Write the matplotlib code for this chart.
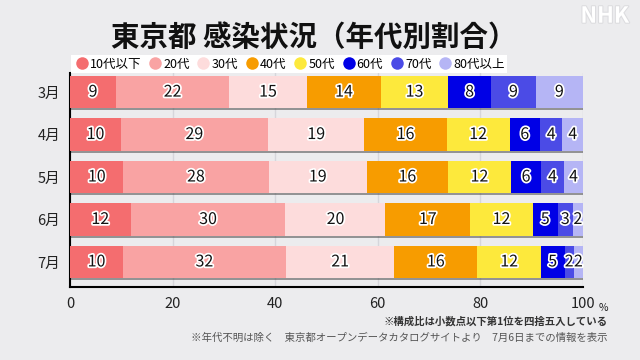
import numpy as np
import matplotlib.pyplot as plt
import matplotlib.patheffects as pe
from matplotlib.lines import Line2D

plt.rcParams['font.family'] = ['Noto Sans CJK JP', 'DejaVu Sans']

# Data (share in %; labels are the rounded values shown)
months = ['3月', '4月', '5月', '6月', '7月']
groups = ['10代以下', '20代', '30代', '40代', '50代', '60代', '70代', '80代以上']
colors = ['#f46d6f', '#f9a3a3', '#fddcdc', '#f79c00', '#fde93c', '#0000e6', '#4b4be6', '#b5b5f5']

share = [
    [9.0, 22.0, 15.2, 14.4, 13.1, 8.4, 8.7, 9.2],
    [9.9, 28.7, 18.8, 16.0, 12.3, 5.9, 4.4, 4.0],
    [10.4, 28.3, 19.2, 15.7, 12.4, 5.8, 4.5, 3.7],
    [11.8, 30.2, 19.5, 16.5, 12.2, 4.9, 2.9, 2.0],
    [10.3, 31.8, 21.1, 16.2, 12.4, 4.6, 1.8, 1.8],
]
labels = [
    [9, 22, 15, 14, 13, 8, 9, 9],
    [10, 29, 19, 16, 12, 6, 4, 4],
    [10, 28, 19, 16, 12, 6, 4, 4],
    [12, 30, 20, 17, 12, 5, 3, 2],
    [10, 32, 21, 16, 12, 5, 2, 2],
]

bg = '#ececee'
fig = plt.figure(figsize=(6.4, 3.6), dpi=100, facecolor=bg)
ax = fig.add_axes([70/640, 1 - 287/360, 513/640, 214/360], facecolor=bg)

share = np.array(share)
y = np.arange(len(months))
h = 0.76

# shadows under bars
ax.barh(y + 0.05, share.sum(axis=1), height=h, color='#4a4a4a', alpha=0.55, zorder=2)

left = np.zeros(len(months))
for j, g in enumerate(groups):
    ax.barh(y, share[:, j], left=left, height=h, color=colors[j], zorder=3)
    for i in range(len(months)):
        ax.text(left[i] + share[i, j] / 2, y[i], str(labels[i][j]),
                ha='center', va='center', fontsize=11.5, color='#111111', zorder=4,
                path_effects=[pe.withStroke(linewidth=2.5, foreground='white')])
    left += share[:, j]

ax.set_xlim(0, 100)
ax.set_ylim(4.59, -0.45)
ax.set_yticks(y)
ax.set_yticklabels(months, fontsize=10.5, color='#222222')
ax.set_xticks([0, 20, 40, 60, 80, 100])
ax.set_xticklabels(['0', '20', '40', '60', '80', '100'], fontsize=10.5, color='#222222')
ax.tick_params(axis='both', length=0)
ax.tick_params(axis='x', pad=7)
ax.tick_params(axis='y', pad=7)
ax.grid(axis='x', color='#d6d6db', lw=1, zorder=0)
ax.set_axisbelow(True)
for s in ['top', 'right']:
    ax.spines[s].set_visible(False)
ax.spines['left'].set_linewidth(1.5)
ax.spines['bottom'].set_linewidth(1.5)
ax.annotate('%', xy=(100, 0), xycoords=ax.get_xaxis_transform(),
            xytext=(15, -15), textcoords='offset points', fontsize=7.5,
            ha='center', va='center', color='#222222')

# legend
handles = [Line2D([], [], marker='o', ls='', markersize=9, markerfacecolor=c,
                  markeredgecolor='none') for c in colors]
fig.legend(handles, groups, ncol=8, loc='lower left', bbox_to_anchor=(71/640, 1 - 73/360),
           fontsize=9, frameon=True, facecolor='white', edgecolor='none', fancybox=False,
           framealpha=1, handletextpad=0.0, columnspacing=0.45, borderpad=0.2,
           handlelength=1.3, borderaxespad=0)

fig.text(0.49, 0.894, '東京都 感染状況（年代別割合）', fontsize=20.5, fontweight='bold',
         ha='center', va='center', color='#111111')
fig.text(0.945, 0.955, 'NHK', fontsize=16, fontweight='bold', style='italic',
         ha='center', va='center', color='white',
         path_effects=[pe.withStroke(linewidth=1.5, foreground='#dcdcdf')])

fig.text(0.949, 0.106, '※構成比は小数点以下第1位を四捨五入している', fontsize=7.5,
         fontweight='bold', ha='right', va='center', color='#333333')
fig.text(0.949, 0.061, '※年代不明は除く　東京都オープンデータカタログサイトより　7月6日までの情報を表示',
         fontsize=7.5, ha='right', va='center', color='#555555')

fig.savefig('out.png', dpi=100, facecolor=bg)
